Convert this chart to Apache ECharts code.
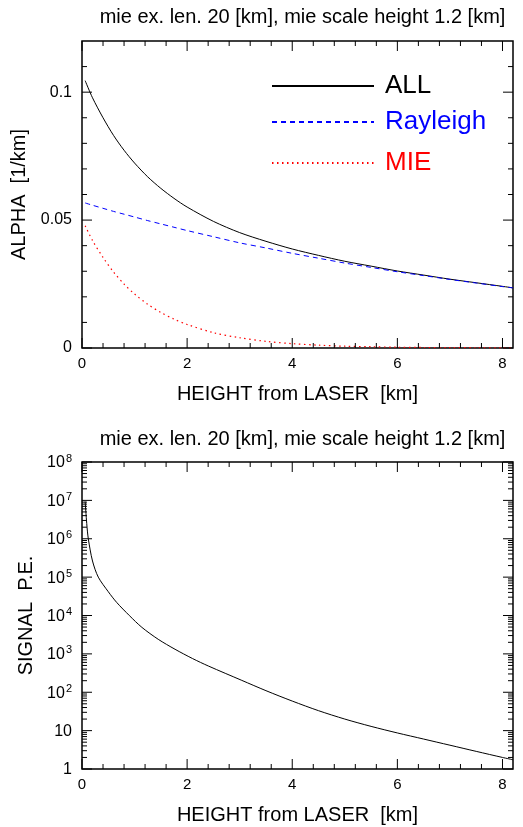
<!DOCTYPE html>
<html>
<head>
<meta charset="utf-8">
<script src="https://cdn.jsdelivr.net/npm/echarts@6/dist/echarts.min.js"></script>
<style>html,body{margin:0;padding:0;background:#fff;}#c{width:523px;height:827px;}</style>
</head>
<body>
<div id="c"></div>
<script>
// ---- data ----
var titleText = 'mie ex. len. 20 [km], mie scale height 1.2 [km]';
var alphaHeights = [0.06, 0.2, 0.4, 0.6, 0.8, 1.0, 1.25, 1.5, 1.75, 2.0, 2.5, 3.0, 3.5, 4.0, 4.5, 5.0, 5.5, 6.0, 6.5, 7.0, 7.5, 8.0, 8.2];
var alphaAll = [0.1045, 0.0978, 0.0900, 0.0831, 0.0773, 0.0723, 0.0669, 0.0624, 0.0585, 0.0551, 0.0495, 0.0451, 0.0417, 0.0387, 0.0362, 0.0339, 0.0320, 0.0301, 0.0285, 0.0269, 0.0255, 0.0241, 0.0235];
var alphaRayleigh = [0.0567, 0.0558, 0.0546, 0.0534, 0.0523, 0.0512, 0.0498, 0.0485, 0.0472, 0.0459, 0.0435, 0.0411, 0.0391, 0.0370, 0.0351, 0.0332, 0.0315, 0.0298, 0.0283, 0.0268, 0.0254, 0.0240, 0.0235];
var alphaMie = [0.0478, 0.0420, 0.0354, 0.0297, 0.0250, 0.0211, 0.0171, 0.0139, 0.0113, 0.0092, 0.0060, 0.0040, 0.0026, 0.0017, 0.0011, 0.0007, 0.0005, 0.0003, 0.0002, 0.00014, 0.0001, 0.00006, 0.00005];
var signalHeights = [0.06, 0.09, 0.12, 0.2, 0.31, 0.5, 0.66, 0.9, 1.14, 1.45, 1.77, 2.1, 2.41, 3.04, 3.5, 4.0, 4.5, 5.0, 5.5, 6.0, 6.5, 7.0, 7.5, 8.0, 8.2];
var signalPE = [9.3e6, 2.51e6, 1.0e6, 2.63e5, 1.0e5, 4.17e4, 2.19e4, 1.0e4, 4900, 2400, 1318, 759, 479, 204, 110, 58.9, 33.1, 20.0, 12.9, 8.7, 6.03, 4.17, 2.88, 2.0, 1.74];

// axis ranges and tick positions
var xMax = 8.2;
var alphaMax = 0.12;
var logMin = 1, logMax = 1e8;
var xMajorTicks = [0, 2, 4, 6, 8];
var xMinorTicks = [0.4, 0.8, 1.2, 1.6, 2.4, 2.8, 3.2, 3.6, 4.4, 4.8, 5.2, 5.6, 6.4, 6.8, 7.2, 7.6];
var alphaMajorTicks = [0, 0.05, 0.1];
var alphaMinorTicks = [0.01, 0.02, 0.03, 0.04, 0.06, 0.07, 0.08, 0.09, 0.11];
var logMajorTicks = [1, 10, 100, 1e3, 1e4, 1e5, 1e6, 1e7, 1e8];
var logMinorTicks = [];
for (var k = 0; k < 8; k++) for (var m = 2; m <= 9; m++) logMinorTicks.push(m * Math.pow(10, k));

function pairs(xs, ys) { return xs.map(function (x, i) { return [x, ys[i]]; }); }

var FONT = '"Liberation Sans", Arial, Helvetica, sans-serif';
var BLACK = '#000';
var MAJOR = 10, MINOR = 5;

// tick rows: [x, y, kind(0=x tick,1=y tick), length]
function tickRows(yMin, yMajor, yMinor) {
  var rows = [];
  xMajorTicks.forEach(function (v) { rows.push([v, yMin, 0, MAJOR]); });
  xMinorTicks.forEach(function (v) { rows.push([v, yMin, 0, MINOR]); });
  yMajor.forEach(function (v) { rows.push([0, v, 1, MAJOR]); });
  yMinor.forEach(function (v) { rows.push([0, v, 1, MINOR]); });
  return rows;
}
function tickSeries(xi, yi, yMin, yMax, rows) {
  return {
    type: 'custom', xAxisIndex: xi, yAxisIndex: yi, data: rows, silent: true, clip: false,
    dimensions: ['x', 'y', 'kind', 'len'],
    encode: { x: 0, y: 1 }, z: 5,
    renderItem: function (params, api) {
      var v0 = api.value(0), v1 = api.value(1), kind = api.value(2), len = api.value(3);
      var st = { stroke: BLACK, lineWidth: 1 };
      if (kind === 0) {
        var pb = api.coord([v0, yMin]), pt = api.coord([v0, yMax]);
        return { type: 'group', children: [
          { type: 'line', shape: { x1: pb[0], y1: pb[1], x2: pb[0], y2: pb[1] - len }, style: st },
          { type: 'line', shape: { x1: pt[0], y1: pt[1], x2: pt[0], y2: pt[1] + len }, style: st }
        ] };
      }
      var pl = api.coord([0, v1]), pr = api.coord([xMax, v1]);
      return { type: 'group', children: [
        { type: 'line', shape: { x1: pl[0], y1: pl[1], x2: pl[0] + len, y2: pl[1] }, style: st },
        { type: 'line', shape: { x1: pr[0], y1: pr[1], x2: pr[0] - len, y2: pr[1] }, style: st }
      ] };
    }
  };
}

var nameStyle = { color: BLACK, fontSize: 20, fontFamily: FONT };
function xAx(grid) {
  return {
    type: 'value', gridIndex: grid, position: 'bottom', min: 0, max: xMax, interval: 2,
    axisLine: { show: false }, axisTick: { show: false }, splitLine: { show: false },
    axisLabel: { color: BLACK, fontSize: 15, fontFamily: FONT, margin: 8, showMaxLabel: false },
    name: 'HEIGHT from LASER  [km]', nameLocation: 'middle', nameGap: 36, nameTextStyle: nameStyle
  };
}

function legendAt(name, top, color) {
  return {
    left: 266, top: top, orient: 'vertical', data: [name],
    itemWidth: 102, itemHeight: 14, selectedMode: false,
    itemStyle: { opacity: 0 },
    textStyle: { color: color, fontSize: 26, fontFamily: FONT, padding: [0, 0, 0, 6] }
  };
}

var option = {
  animation: false,
  backgroundColor: '#fff',
  title: [
    { text: titleText, left: 297.5, textAlign: 'center', top: 2, textStyle: { color: BLACK, fontSize: 20, fontWeight: 'normal', fontFamily: FONT } },
    { text: titleText, left: 297.5, textAlign: 'center', top: 424, textStyle: { color: BLACK, fontSize: 20, fontWeight: 'normal', fontFamily: FONT } }
  ],
  legend: [
    legendAt('ALL', 68, BLACK),
    legendAt('Rayleigh', 104, '#0000ff'),
    legendAt('MIE', 145, '#ff0000')
  ],
  grid: [
    { left: 82, top: 41, width: 431, height: 307, show: true, borderColor: BLACK, borderWidth: 1.5, backgroundColor: 'transparent' },
    { left: 82, top: 462, width: 431, height: 307, show: true, borderColor: BLACK, borderWidth: 1.5, backgroundColor: 'transparent' }
  ],
  xAxis: [xAx(0), xAx(1)],
  yAxis: [
    {
      type: 'value', gridIndex: 0, position: 'left', min: 0, max: alphaMax, interval: 0.05,
      axisLine: { show: false }, axisTick: { show: false }, splitLine: { show: false },
      axisLabel: { color: BLACK, fontSize: 16, fontFamily: FONT, margin: 10, showMaxLabel: false },
      name: 'ALPHA  [1/km]', nameLocation: 'middle', nameGap: 43, nameRotate: 90, nameTextStyle: nameStyle
    },
    {
      type: 'log', logBase: 10, gridIndex: 1, position: 'left', min: logMin, max: logMax, interval: 1,
      axisLine: { show: false }, axisTick: { show: false }, splitLine: { show: false },
      axisLabel: {
        color: BLACK, fontSize: 16, fontFamily: FONT, margin: 10,
        formatter: function (v) {
          var e = Math.round(Math.log10(v));
          if (e === 0) return '{b|1}';
          if (e === 1) return '{b|10}';
          return '{b|10}{s|' + e + '}';
        },
        rich: {
          b: { fontSize: 16, fontFamily: FONT, color: BLACK, lineHeight: 18, verticalAlign: 'bottom' },
          s: { fontSize: 11, fontFamily: FONT, color: BLACK, lineHeight: 18, verticalAlign: 'top', padding: [0, 0, 0, 1] }
        }
      },
      name: 'SIGNAL  P.E.', nameLocation: 'middle', nameGap: 43, nameRotate: 90, nameTextStyle: nameStyle
    }
  ],
  series: [
    { name: 'ALL', type: 'line', xAxisIndex: 0, yAxisIndex: 0, data: pairs(alphaHeights, alphaAll), smooth: 0.3, showSymbol: false, symbol: 'none', lineStyle: { color: BLACK, width: 1 }, itemStyle: { color: BLACK } },
    { name: 'Rayleigh', type: 'line', xAxisIndex: 0, yAxisIndex: 0, data: pairs(alphaHeights, alphaRayleigh), smooth: 0.3, showSymbol: false, symbol: 'none', lineStyle: { color: '#0000ff', width: 1, type: [5, 4] }, itemStyle: { color: '#0000ff' } },
    { name: 'MIE', type: 'line', xAxisIndex: 0, yAxisIndex: 0, data: pairs(alphaHeights, alphaMie), smooth: 0.3, showSymbol: false, symbol: 'none', lineStyle: { color: '#ff0000', width: 1.2, type: [1.5, 3.5] }, itemStyle: { color: '#ff0000' } },
    { name: 'SIGNAL', type: 'line', xAxisIndex: 1, yAxisIndex: 1, data: pairs(signalHeights, signalPE), smooth: 0.3, showSymbol: false, symbol: 'none', lineStyle: { color: BLACK, width: 1 } },
    tickSeries(0, 0, 0, alphaMax, tickRows(0, alphaMajorTicks, alphaMinorTicks)),
    tickSeries(1, 1, logMin, logMax, tickRows(logMin, logMajorTicks, logMinorTicks))
  ]
};
var chart = echarts.init(document.getElementById('c'), null, { renderer: 'canvas' });
chart.setOption(option);
</script>
</body>
</html>
